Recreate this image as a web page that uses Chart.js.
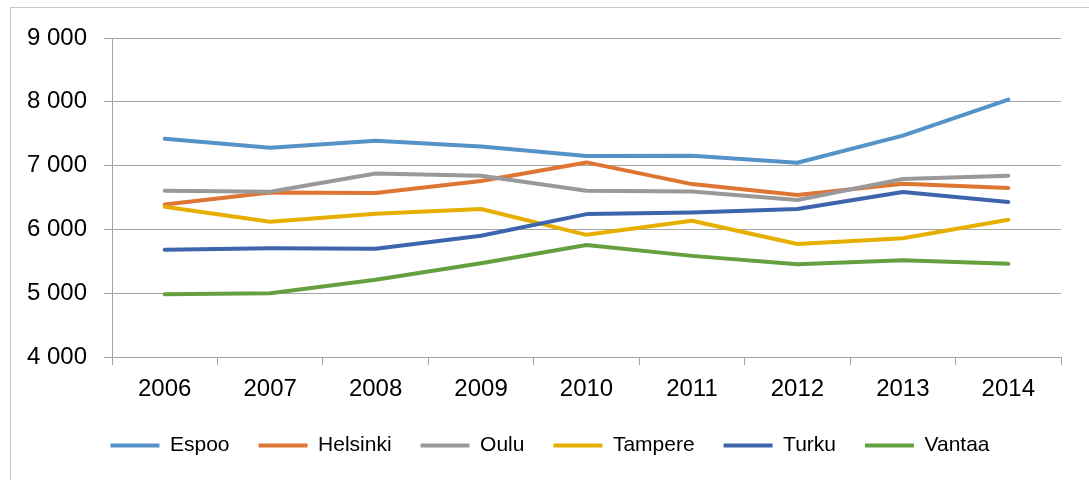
<!DOCTYPE html>
<html>
<head>
<meta charset="utf-8">
<script src="https://cdn.jsdelivr.net/npm/chart.js@4.4.1/dist/chart.umd.min.js"></script>
<style>
html,body{margin:0;padding:0;background:#fff;}
#wrap{width:1089px;height:480px;position:relative;}
</style>
</head>
<body>
<div id="wrap"><canvas id="c" width="1089" height="480"></canvas></div>
<script>
const years = ['2006','2007','2008','2009','2010','2011','2012','2013','2014'];
const seriesNames = ['Espoo','Helsinki','Oulu','Tampere','Turku','Vantaa'];
const espoo    = [7420, 7280, 7390, 7300, 7150, 7155, 7045, 7470, 8035];
const helsinki = [6390, 6580, 6570, 6760, 7050, 6710, 6540, 6715, 6650];
const oulu     = [6605, 6590, 6875, 6840, 6605, 6595, 6460, 6790, 6840];
const tampere  = [6355, 6120, 6245, 6320, 5915, 6135, 5770, 5860, 6150];
const turku    = [5680, 5705, 5695, 5900, 6240, 6265, 6320, 6585, 6430];
const vantaa   = [4985, 5000, 5210, 5470, 5755, 5585, 5455, 5515, 5460];
const yMin = 4000, yMax = 9000, yStep = 1000;

const seriesValues = [espoo, helsinki, oulu, tampere, turku, vantaa];
const seriesColors = ['#5592C8', '#DE7532', '#999999', '#E6AF00', '#3D65AE', '#64A03F'];

const frame = {
  id: 'frame',
  beforeDraw(chart) {
    const ctx = chart.ctx;
    ctx.save();
    ctx.fillStyle = '#fff';
    ctx.fillRect(0, 0, chart.width, chart.height);
    ctx.strokeStyle = '#C6C6C6';
    ctx.lineWidth = 1;
    ctx.strokeRect(10.5, 7.5, 1100, 500);
    ctx.restore();
  },
  afterLayout(chart) {
    const lg = chart.legend;
    if (lg) { lg.left += 19.5; lg.right += 19.5; }
  }
};

const FONT = '"Liberation Sans", Arial, sans-serif';

new Chart(document.getElementById('c'), {
  type: 'line',
  data: {
    labels: years,
    datasets: seriesNames.map((n, i) => ({
      label: n,
      data: seriesValues[i],
      borderColor: seriesColors[i],
      backgroundColor: seriesColors[i],
      borderWidth: 4,
      borderCapStyle: 'round',
      borderJoinStyle: 'round',
      pointRadius: 0,
      pointHoverRadius: 0,
      pointStyle: 'line',
      tension: 0,
      fill: false,
      order: seriesNames.length - i
    }))
  },
  options: {
    responsive: false,
    animation: false,
    devicePixelRatio: 1,
    layout: { padding: { left: 0, right: 28, top: 38, bottom: 14 } },
    plugins: {
      tooltip: { enabled: false },
      legend: {
        position: 'bottom',
        labels: {
          usePointStyle: true,
          pointStyle: 'line',
          pointStyleWidth: 49,
          padding: 29,
          color: '#000',
          font: { family: FONT, size: 21 },
          sort: (a, b) => a.datasetIndex - b.datasetIndex
        }
      }
    },
    scales: {
      x: {
        offset: true,
        grid: {
          offset: true,
          drawOnChartArea: false,
          drawTicks: true,
          tickLength: 8,
          color: '#A5A5A5',
          lineWidth: 1
        },
        border: { display: true, color: '#A5A5A5', width: 1 },
        ticks: {
          color: '#000',
          padding: 10,
          maxRotation: 0,
          font: { family: FONT, size: 24 }
        },
        afterFit(scale) { scale.height = 49; }
      },
      y: {
        min: yMin,
        max: yMax,
        grid: {
          color: '#A5A5A5',
          lineWidth: 1,
          drawTicks: true,
          tickLength: 8
        },
        border: { display: true, color: '#A5A5A5', width: 1 },
        ticks: {
          stepSize: yStep,
          color: '#000',
          padding: 17,
          font: { family: FONT, size: 24 },
          callback: v => String(v).replace(/\B(?=(\d{3})+(?!\d))/g, ' ')
        },
        afterFit(scale) { scale.width = 112; }
      }
    }
  },
  plugins: [frame]
});
</script>
</body>
</html>
